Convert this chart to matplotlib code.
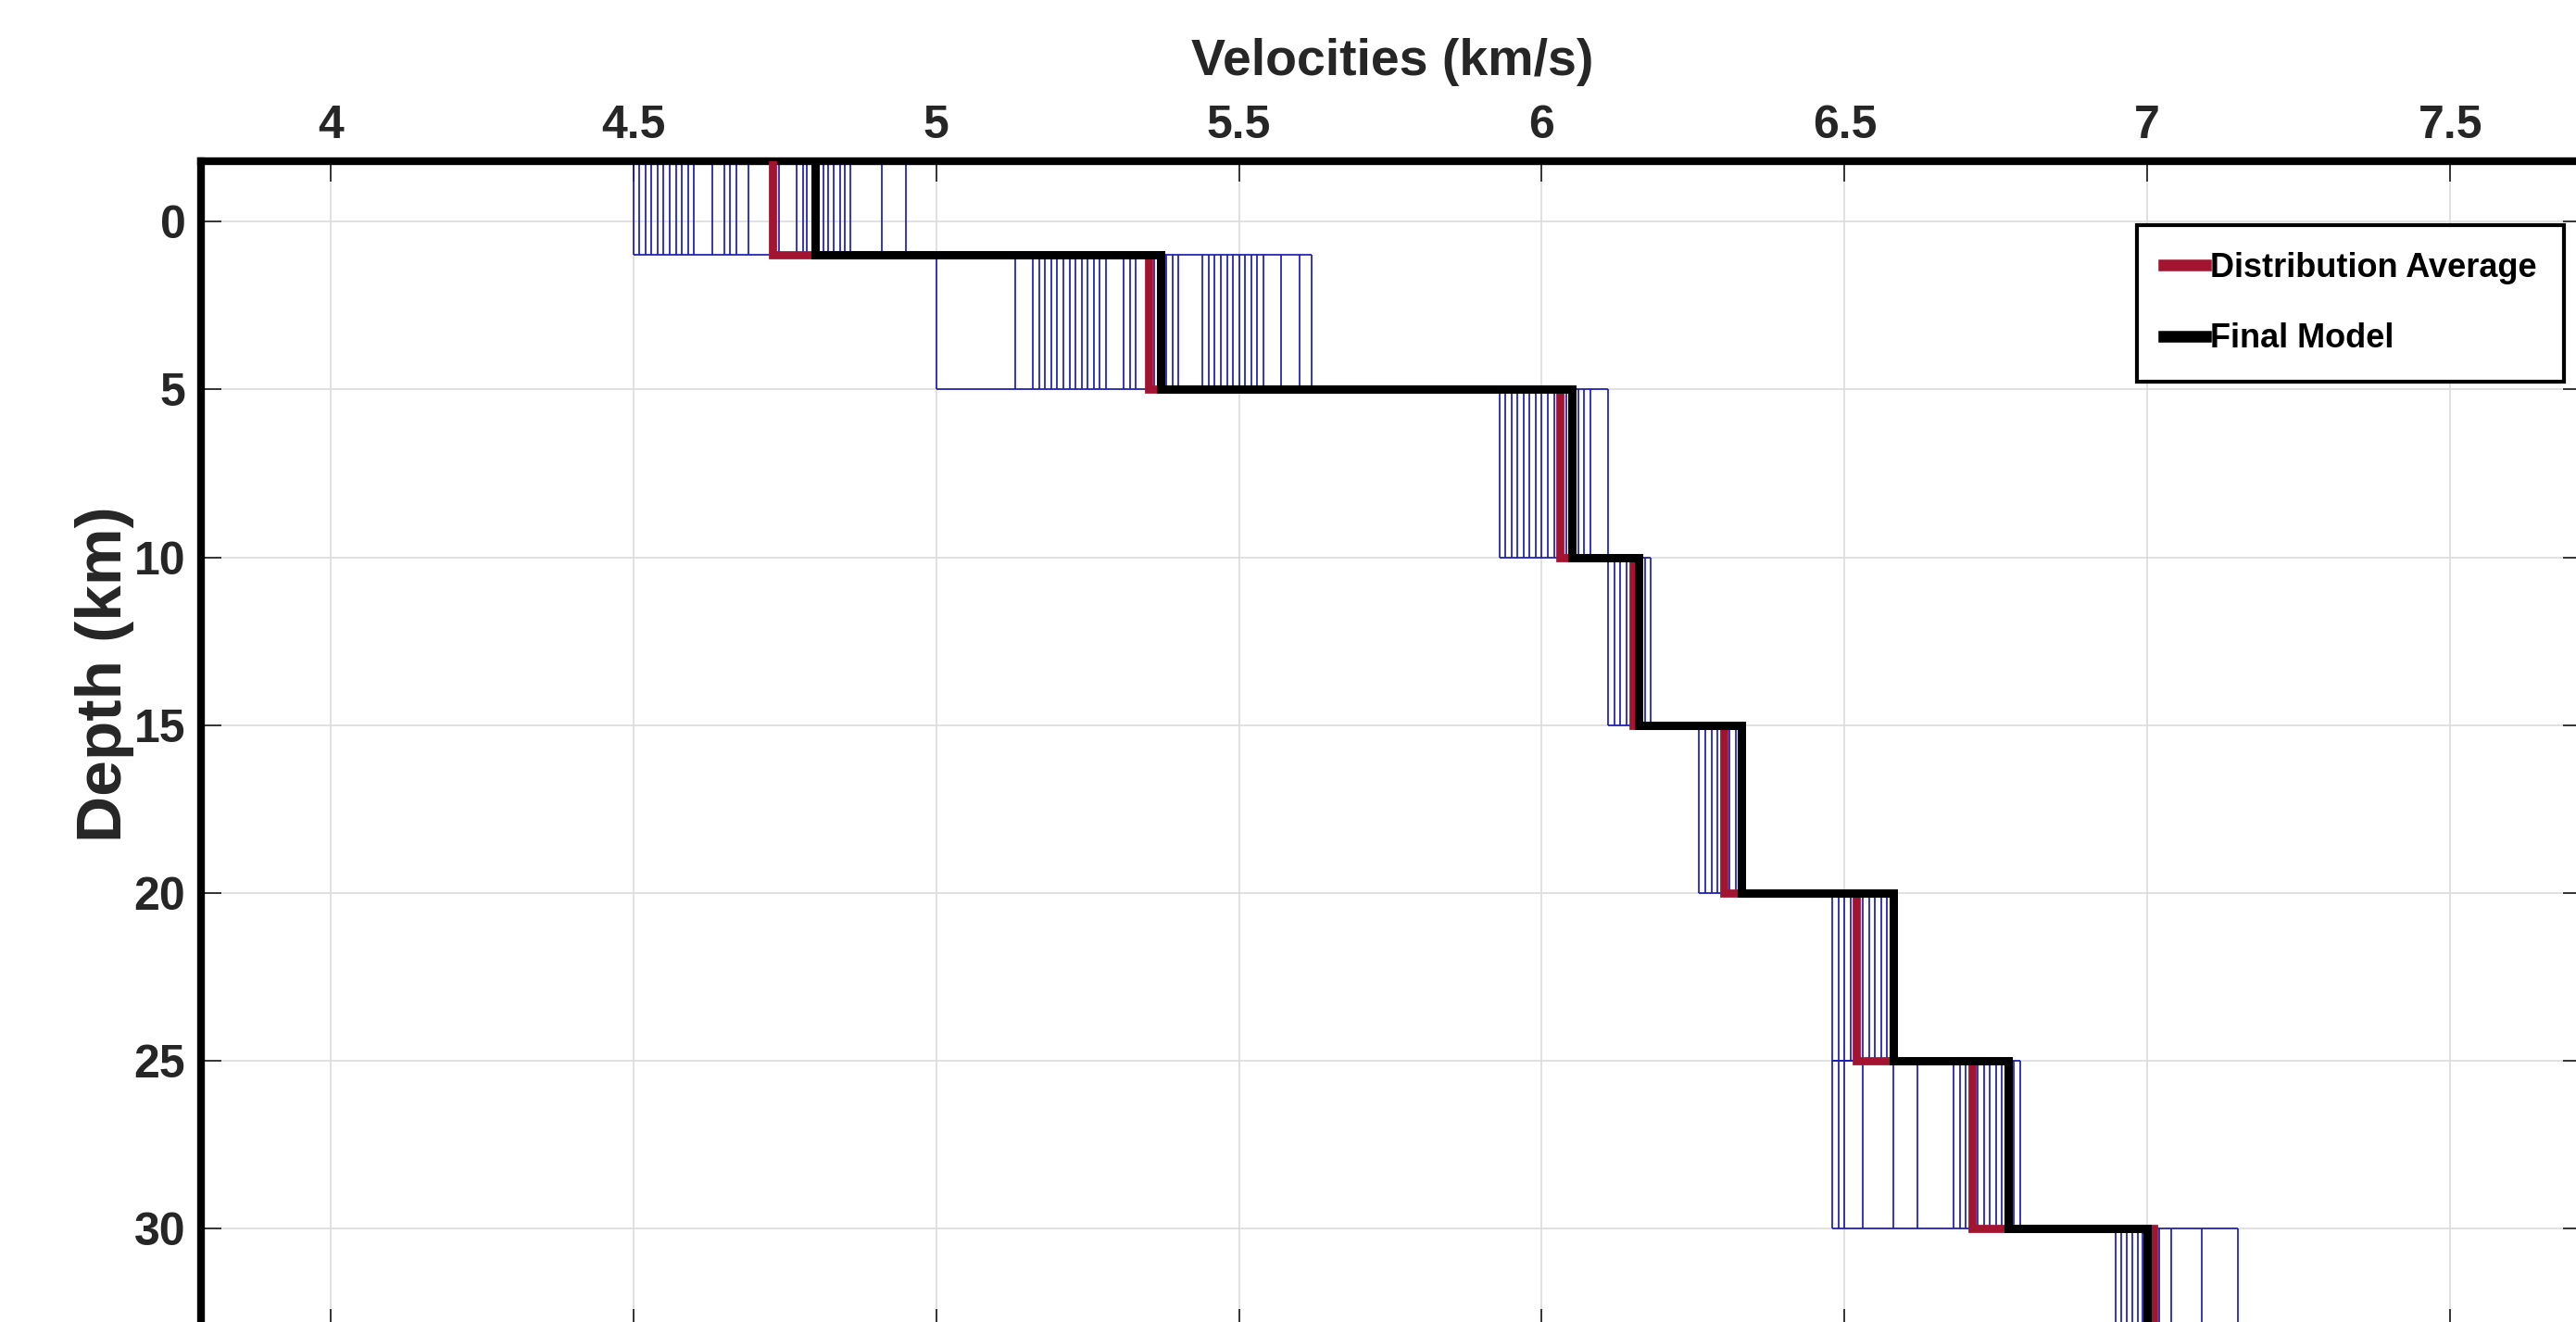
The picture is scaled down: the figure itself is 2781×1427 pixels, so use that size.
import matplotlib
matplotlib.use("Agg")
import matplotlib.pyplot as plt

plt.rcParams.update({"font.family": ["Liberation Sans", "DejaVu Sans"],
                     "font.weight": "bold"})

# layer interfaces (km); first/last extend past the visible axis range
interfaces = [-2, 1, 5, 10, 15, 20, 25, 30, 36]

# sampled velocities per layer (km/s)
layer1 = [4.50, 4.51, 4.52, 4.53, 4.54, 4.55, 4.56, 4.57, 4.58, 4.59, 4.60,
          4.63, 4.65, 4.66, 4.67, 4.69, 4.74, 4.77, 4.78, 4.787, 4.806,
          4.814, 4.821, 4.831, 4.841, 4.849, 4.858, 4.91, 4.95]
layer2 = [5.00, 5.13, 5.16, 5.17, 5.18, 5.19, 5.20, 5.21, 5.22, 5.23, 5.24,
          5.25, 5.26, 5.27, 5.28, 5.31, 5.32, 5.33, 5.36, 5.38, 5.39, 5.40,
          5.44, 5.45, 5.46, 5.47, 5.48, 5.49, 5.50, 5.51, 5.52, 5.53, 5.54,
          5.57, 5.60, 5.62]
layer3 = [5.93, 5.94, 5.95, 5.96, 5.97, 5.98, 5.99, 6.00, 6.01, 6.02, 6.04,
          6.06, 6.07, 6.08, 6.11]
layer4 = [6.11, 6.12, 6.13, 6.14, 6.17, 6.18]
layer5 = [6.26, 6.27, 6.28, 6.29, 6.31, 6.32]
layer6 = [6.48, 6.49, 6.50, 6.51, 6.53, 6.54, 6.55, 6.56, 6.57]
layer7 = [6.48, 6.49, 6.50, 6.53, 6.58, 6.62, 6.68, 6.69, 6.70, 6.72, 6.73,
          6.74, 6.75, 6.76, 6.78, 6.79]
layer8 = [6.948, 6.957, 6.966, 6.975, 6.984, 6.992, 7.02, 7.04, 7.09, 7.15]
samples = [layer1, layer2, layer3, layer4, layer5, layer6, layer7, layer8]

dist_average = [4.73, 5.35, 6.03, 6.15, 6.30, 6.52, 6.71, 7.01]
final_model = [4.80, 5.37, 6.05, 6.16, 6.33, 6.58, 6.77, 7.00]

x_ticks = [4, 4.5, 5, 5.5, 6, 6.5, 7, 7.5]
x_ticklabels = ["4", "4.5", "5", "5.5", "6", "6.5", "7", "7.5"]
y_ticks = [0, 5, 10, 15, 20, 25, 30]

RED = "#A2142F"
BLUE = "#1c1cb4"
GRAY = "#262626"


def profile(vals):
    xs, ys = [], []
    for i, v in enumerate(vals):
        xs += [v, v]
        ys += [interfaces[i], interfaces[i + 1]]
    return xs, ys


W, H = 2781, 1427
fig = plt.figure(figsize=(W / 100, H / 100), dpi=100)
ax = fig.add_axes([217 / W, -8 / H, 2572 / W, 1261 / H])

# sample boxes
for i, vals in enumerate(samples):
    top, bot = interfaces[i], interfaces[i + 1]
    ax.vlines(vals, top, bot, color=BLUE, linewidth=1.25, zorder=2)
    ax.hlines([top, bot], min(vals), max(vals), color=BLUE, linewidth=1.25, zorder=2)

xr, yr = profile(dist_average)
ax.plot(xr, yr, color=RED, linewidth=6.3, solid_joinstyle="miter",
        label="Distribution Average", zorder=3)
xb, yb = profile(final_model)
ax.plot(xb, yb, color="black", linewidth=6.5, solid_joinstyle="miter",
        label="Final Model", zorder=4)

ax.set_xlim(3.786, 7.72)
ax.set_ylim(33, -1.8)
ax.set_xticks(x_ticks)
ax.set_xticklabels(x_ticklabels)
ax.set_yticks(y_ticks)

ax.grid(True, color="#dcdcdc", linewidth=1.2)
ax.set_axisbelow(True)
for s in ax.spines.values():
    s.set_linewidth(6)
    s.set_color("black")

ax.tick_params(axis="both", direction="in", length=16, width=1.3, color=GRAY,
               labelcolor=GRAY, labelsize=36, top=True, bottom=True,
               left=True, right=True, labeltop=True, labelbottom=False)
ax.tick_params(axis="x", pad=11)
ax.tick_params(axis="y", pad=12)

ax.xaxis.set_label_position("top")
ax.set_xlabel("Velocities (km/s)", fontsize=40, fontweight="bold",
              color=GRAY, labelpad=23)
ax.set_ylabel("Depth (km)", fontsize=50, fontweight="bold", color=GRAY)
ax.yaxis.set_label_coords(-0.028, 0.561)

leg = ax.legend(loc="upper right", bbox_to_anchor=(2768 / W, 1 - 243 / H),
                bbox_transform=fig.transFigure, borderaxespad=0,
                fontsize=26, fancybox=False, edgecolor="black", framealpha=1,
                handlelength=1.25, handletextpad=0.15, borderpad=0.8,
                labelspacing=1.15)
leg.get_frame().set_linewidth(3)
for h in leg.legend_handles:
    h.set_linewidth(9)

fig.savefig("out.png", dpi=100)
